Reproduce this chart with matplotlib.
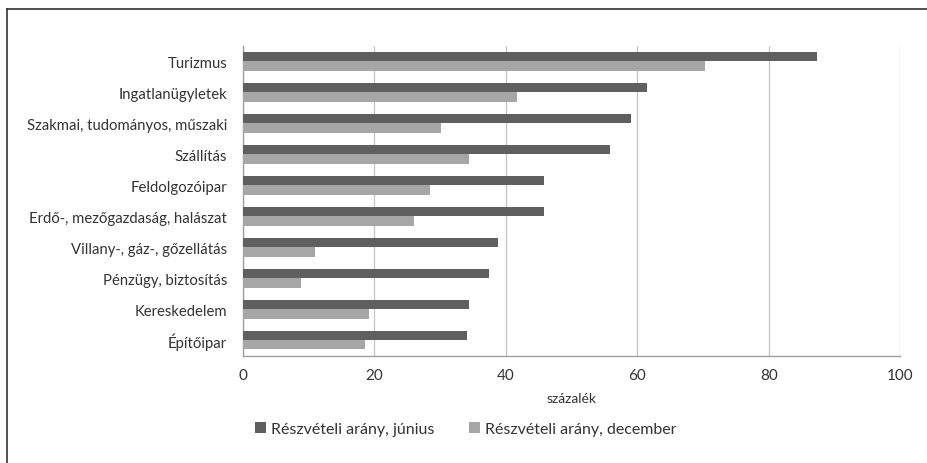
import numpy as np
import matplotlib.pyplot as plt
from matplotlib.lines import Line2D

plt.rcParams["font.family"] = ["Lato", "DejaVu Sans"]

categories = [
    "Turizmus",
    "Ingatlanügyletek",
    "Szakmai, tudományos, műszaki",
    "Szállítás",
    "Feldolgozóipar",
    "Erdő-, mezőgazdaság, halászat",
    "Villany-, gáz-, gőzellátás",
    "Pénzügy, biztosítás",
    "Kereskedelem",
    "Építőipar",
]
june = [87.4, 61.5, 59.0, 55.8, 45.9, 45.9, 38.9, 37.4, 34.4, 34.2]
december = [70.3, 41.7, 30.1, 34.4, 28.5, 26.1, 11.0, 8.9, 19.2, 18.6]
x_ticks = [0, 20, 40, 60, 80, 100]

dark = "#5f5f5f"
light = "#a6a6a6"
text_color = "#333333"

fig = plt.figure(figsize=(9.27, 4.64), dpi=100)
ax = fig.add_axes([0.2616, 0.2313, 0.7096, 0.6674])

y = np.arange(len(categories))
h = 0.3
ax.barh(y - h / 2, june, height=h, color=dark, label="Részvételi arány, június", zorder=3)
ax.barh(y + h / 2, december, height=h, color=light, label="Részvételi arány, december", zorder=3)

ax.set_ylim(len(categories) - 0.5, -0.5)
ax.set_xlim(0, 100)
ax.set_yticks(y)
ax.set_yticklabels(categories, fontsize=10.7, color=text_color)
ax.set_xticks(x_ticks)
ax.set_xticklabels([str(t) for t in x_ticks], fontsize=11, color=text_color)
ax.tick_params(axis="y", length=0, pad=11)
ax.tick_params(axis="x", length=0, pad=9)

ax.grid(axis="x", color="#c8c8c8", linewidth=1.0, zorder=0)
for side in ["top", "right"]:
    ax.spines[side].set_visible(False)
for side in ["left", "bottom"]:
    ax.spines[side].set_color("#a0a0a0")
    ax.spines[side].set_linewidth(1.0)

ax.set_xlabel("százalék", fontsize=10, color=text_color, labelpad=7)

ax.legend(
    loc="upper center",
    bbox_to_anchor=(0.3394, -0.168),
    ncol=2,
    frameon=False,
    fontsize=11.5,
    handlelength=0.7,
    handleheight=0.7,
    handletextpad=0.3,
    columnspacing=2.19,
    labelcolor=text_color,
)

# outer frame (top and left visible)
fig.add_artist(Line2D([7 / 927, 1], [1 - 10 / 464, 1 - 10 / 464], color="#333333", linewidth=1.2))
fig.add_artist(Line2D([7 / 927, 7 / 927], [0, 1 - 10 / 464], color="#333333", linewidth=1.2))

fig.savefig("out.png", dpi=100)
